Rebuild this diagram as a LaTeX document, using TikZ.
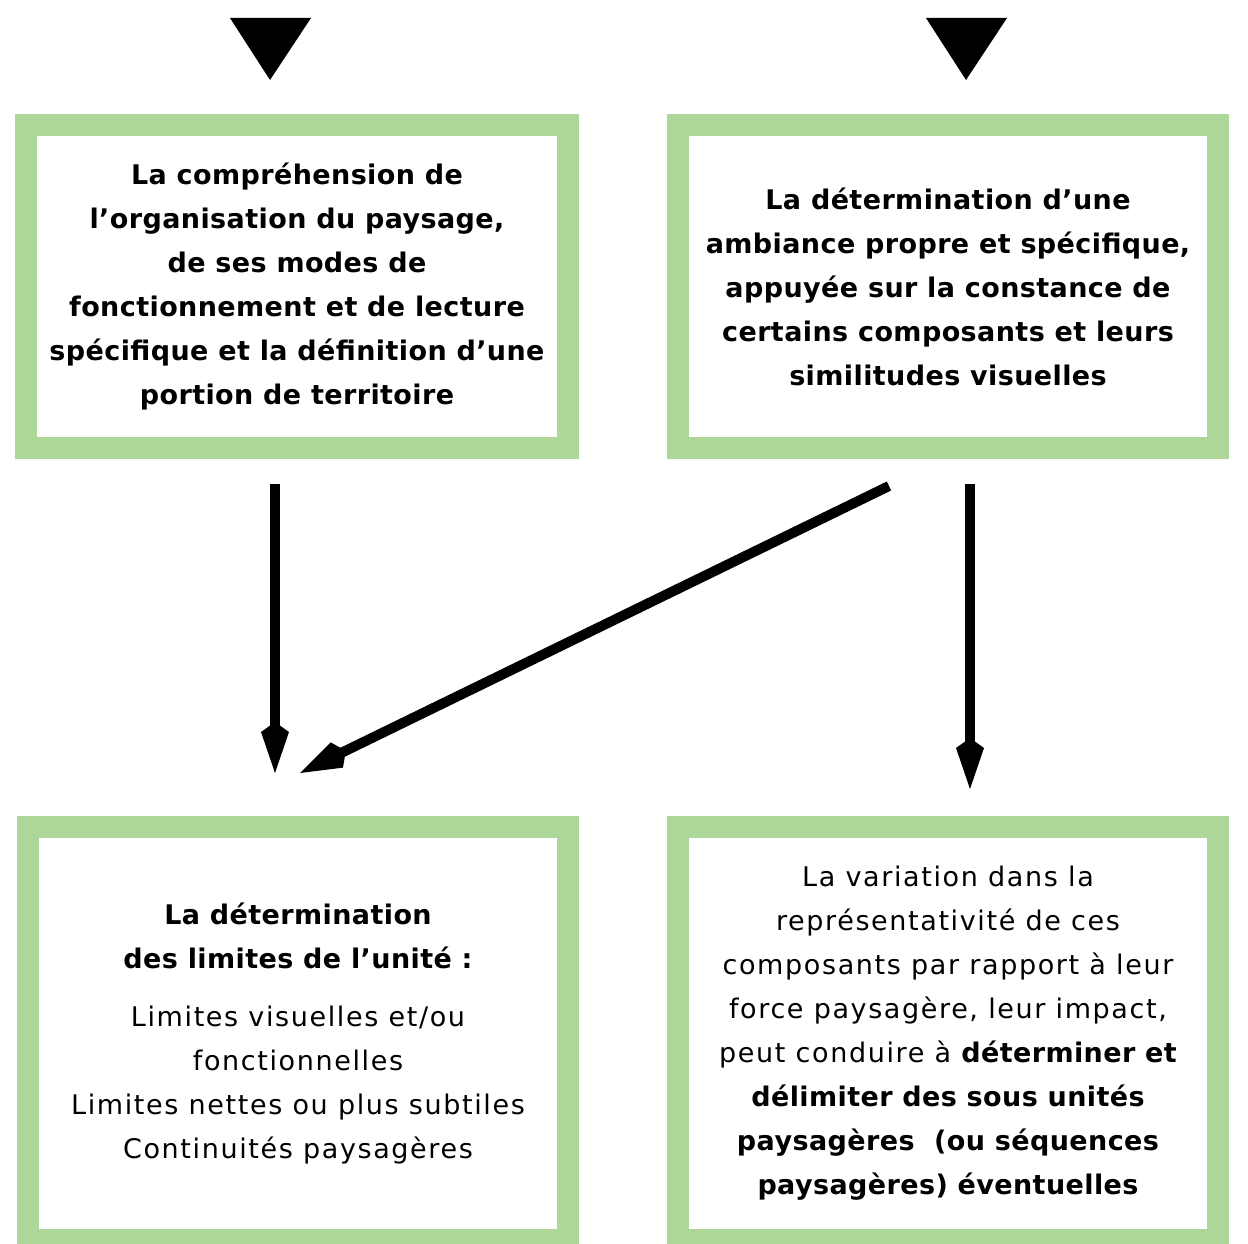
\documentclass[tikz,border=0pt]{standalone}
\usepackage{fontspec}
\setmainfont{DejaVu Sans}
\newfontfamily\rfont{DejaVu Sans}[LetterSpace=6]
\newfontfamily\bfont{DejaVu Sans Bold}[LetterSpace=1.5]
\usetikzlibrary{arrows.meta}
\definecolor{boxgreen}{RGB}{173,215,153}
\begin{document}
\begin{tikzpicture}[x=1pt,y=-1pt,
  frame/.style={draw=boxgreen, line width=22pt, fill=white, inner sep=0pt,
    align=center, font=\fontsize{27}{44}\selectfont\rfont},
  conn/.style={line width=10pt, -{Kite[length=51pt,width=28pt,inset=10pt]}},
  tri/.style={fill=black}]
\useasboundingbox (0,0) rectangle (1248,1244);
\clip (0,0) rectangle (1248,1244);

\fill[tri] (230,18) -- (311,18) -- (270,80) -- cycle;
\fill[tri] (926,18) -- (1007,18) -- (966,80) -- cycle;

\node[frame, minimum width=542pt, minimum height=323pt] (b1) at (297,286.5)
  {\bfont La compréhension de\\
   \bfont l’organisation du paysage,\\
   \bfont de ses modes de\\
   \bfont fonctionnement et de lecture\\
   \bfont spécifique et la définition d’une\\
   \bfont portion de territoire};

\node[frame, minimum width=540pt, minimum height=323pt] (b2) at (948,286.5)
  {\bfont La détermination d’une\\
   \bfont ambiance propre et spécifique,\\
   \bfont appuyée sur la constance de\\
   \bfont certains composants et leurs\\
   \bfont similitudes visuelles};

\node[frame, minimum width=540pt, minimum height=413pt] (b3) at (298,1033.5)
  {\bfont La détermination\\
   \bfont des limites de l’unité :\\[14pt]
   Limites visuelles et/ou\\
   fonctionnelles\\
   Limites nettes ou plus subtiles\\
   Continuités paysagères};

\node[frame, minimum width=540pt, minimum height=413pt] (b4) at (948,1033.5)
  {La variation dans la\\
   représentativité de ces\\
   composants par rapport à leur\\
   force paysagère, leur impact,\\
   peut conduire à {\bfont déterminer et}\\
   \bfont délimiter des sous unités\\
   \bfont paysagères~~(ou séquences\\
   \bfont paysagères) éventuelles};

\coordinate (s1) at (275,484);
\coordinate (e1) at (275,773);
\coordinate (s2) at (889,486);
\coordinate (e2) at (300,773);
\coordinate (s3) at (970,484);
\coordinate (e3) at (970,789);

\draw[conn] (s1) -- (e1);
\draw[conn] (s2) -- (e2);
\draw[conn] (s3) -- (e3);
\end{tikzpicture}
\end{document}
